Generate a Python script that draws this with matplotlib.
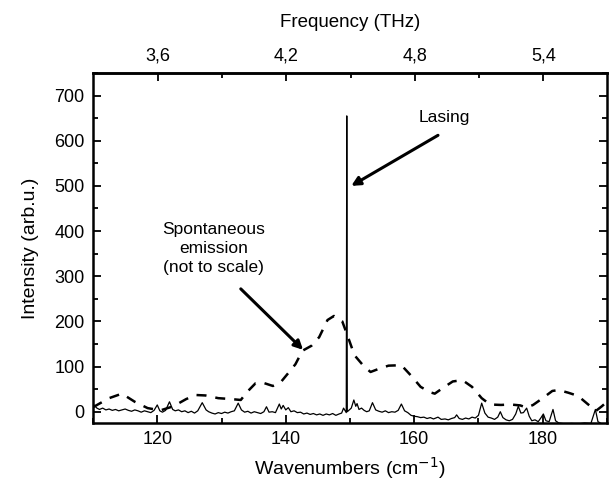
import matplotlib
matplotlib.use('Agg')
import matplotlib.pyplot as plt
from matplotlib.ticker import MultipleLocator, FixedLocator, FixedFormatter

plt.rcParams['font.family'] = ['Liberation Sans', 'DejaVu Sans']

# spontaneous emission (dashed, not to scale)
spont_x = [110, 112.5, 114.5, 116.5, 118.5, 120.5, 122.5, 124.5, 126, 127.5,
           129.5, 131.5, 133, 134, 135.3, 136.5, 138, 139.2, 140.3, 141.5,
           142.6, 144, 145.2, 146.5, 147.5, 148.8, 149.7, 150.7, 152.2, 153.2,
           154.5, 156, 158, 159.5, 161, 162.5, 163.2, 164.5, 166, 167.5,
           169, 170.5, 171.8, 173.5, 175, 176.5, 177.5, 178.5, 180, 181.5,
           182.5, 184, 185.5, 187, 188.3, 189.2, 190]
spont_y = [10, 30, 40, 22, 8, 3, 12, 28, 37, 36,
           30, 28, 26, 44, 63, 64, 57, 65, 84, 105,
           135, 146, 165, 203, 212, 200, 165, 125, 100, 88,
           95, 102, 103, 80, 55, 43, 40, 53, 67, 70,
           55, 30, 16, 15, 16, 14, 9, 15, 30, 46,
           48, 42, 35, 17, 2, 12, 22]

# lasing spectrum (solid)
las_x = [110.2, 110.6, 111.0, 111.5, 112.0, 112.5, 113.0, 113.5, 114.0, 114.5,
         115.0, 115.5, 116.0, 116.5, 117.0, 117.5, 118.0, 118.5, 119.0, 119.5,
         120.0, 120.4, 120.8, 121.3, 121.9, 122.4, 122.8, 123.3, 123.8, 124.3,
         124.8, 125.3, 125.8, 126.3, 127.0, 127.6, 128.0, 128.5, 129.0, 129.5,
         130.0, 130.5, 131.0, 131.5, 132.0, 132.6, 133.1, 133.6, 134.1, 134.6,
         135.1, 135.6, 136.1, 136.6, 137.0, 137.4, 137.9, 138.4, 139.0, 139.3,
         139.6, 140.0, 140.4, 140.8, 141.3, 141.8, 142.3, 142.8, 143.3, 143.8,
         144.3, 144.8, 145.3, 145.8, 146.3, 146.8, 147.3, 147.8, 148.3, 148.7,
         149.0, 149.42, 149.5, 149.58, 150.2, 150.6, 150.9, 151.1, 151.4, 151.8,
         152.2, 152.6, 153.0, 153.5, 154.0, 154.5, 155.0, 155.5, 156.0, 156.5,
         157.0, 157.5, 158.0, 158.5, 159.0, 159.5, 160.0, 160.5, 161.0, 161.5,
         162.0, 162.5, 163.0, 163.7, 164.2, 164.8, 165.3, 165.8, 166.3, 166.6,
         167.0, 167.5, 168.0, 168.5, 169.0, 169.5, 170.0, 170.5, 171.0, 171.5,
         172.0, 172.5, 173.0, 173.4, 173.8, 174.3, 174.8, 175.3, 175.8, 176.2,
         176.6, 177.0, 177.5, 177.9, 178.3, 178.8, 179.3, 179.7, 180.1, 180.5,
         181.0, 181.6, 182.0, 182.5, 183.5, 184.5, 185.5, 186.5, 187.5, 188.2,
         188.6, 189.2, 190.0]
las_y = [14, 8, 5, 8, 4, 6, 3, 5, 2, 4,
         6, 3, 1, 4, 2, -1, 2, 0, -2, 3,
         15, 2, -1, 3, 22, 5, 2, 4, 0, 2,
         -2, 1, -3, 2, 20, 4, 0, -3, -5, -2,
         -4, -1, -3, 0, 2, 19, 4, -1, 1, -3,
         0, -2, -4, 0, 11, -1, 0, -2, 17, 6,
         14, 4, 9, 0, 2, -2, -1, -5, -3, -6,
         -4, -7, -5, -8, -5, -7, -4, -8, -5, -3,
         8, -2, 655, 0, 8, 26, 12, 18, 5, 8,
         3, 0, 2, 20, 4, 1, -1, 2, -2, 0,
         -1, 3, 17, 2, -2, -8, -10, -11, -13, -12,
         -15, -13, -16, -12, -17, -16, -18, -15, -13, -7,
         -15, -17, -14, -16, -12, -14, -8, 19, -3, -12,
         -14, -17, -12, 0, -13, -18, -20, -17, -5, 12,
         -3, -2, 8, -10, -20, -18, -22, -14, -5, -20,
         -22, 5, -20, -25, -27, -26, -27, -25, -26, 5,
         -22, -27, -27]

thz_ticks = [3.6, 4.2, 4.8, 5.4]
thz_labels = ['3,6', '4,2', '4,8', '5,4']
thz_minor = [3.9, 4.5, 5.1]

fig = plt.figure(figsize=(6.10, 4.83), dpi=100)
ax = fig.add_axes([0.1525, 0.1242, 0.8425, 0.7247])

ax.plot(spont_x, spont_y, color='black', lw=1.8, linestyle=(0, (4, 3.6)))
ax.plot(las_x, las_y, color='black', lw=0.9)

ax.set_xlim(110, 190)
ax.set_ylim(-25, 750)
ax.xaxis.set_major_locator(MultipleLocator(20))
ax.xaxis.set_minor_locator(MultipleLocator(10))
ax.yaxis.set_minor_locator(MultipleLocator(50))
ax.set_yticks(range(0, 701, 100))

ax.tick_params(which='both', direction='in', width=1.3, labelsize=13,
               right=True, top=False)
ax.tick_params(which='major', length=6, pad=6)
ax.tick_params(which='minor', length=3.5)
for sp in ax.spines.values():
    sp.set_linewidth(1.8)

ax.set_xlabel('Wavenumbers (cm$^{-1}$)', fontsize=14, labelpad=5)
ax.set_ylabel('Intensity (arb.u.)', fontsize=14, labelpad=11)

# top axis in THz
top = ax.secondary_xaxis('top', functions=(lambda x: x / 33.356,
                                           lambda f: f * 33.356))
top.xaxis.set_major_locator(FixedLocator(thz_ticks))
top.xaxis.set_major_formatter(FixedFormatter(thz_labels))
top.xaxis.set_minor_locator(FixedLocator(thz_minor))
top.tick_params(which='both', direction='in', width=1.3, labelsize=13)
top.tick_params(which='major', length=6, pad=6)
top.tick_params(which='minor', length=3.5)
top.spines['top'].set_linewidth(1.8)
top.set_xlabel('Frequency (THz)', fontsize=13.5, labelpad=15)

# annotations: arrows and text drawn separately
arrow = dict(arrowstyle='-|>', color='black', lw=2.2,
             shrinkA=0, shrinkB=0, mutation_scale=13)
ax.annotate('', xy=(150.2, 500), xytext=(163.7, 612), arrowprops=arrow)
ax.text(164.7, 652, 'Lasing', ha='center', va='center', fontsize=12.5)
ax.annotate('', xy=(142.7, 137), xytext=(133, 272), arrowprops=arrow)
ax.text(128.8, 362, 'Spontaneous\nemission\n(not to scale)',
        ha='center', va='center', fontsize=12.5, linespacing=1.35)

plt.savefig('out.png', dpi=100)
plt.close()
